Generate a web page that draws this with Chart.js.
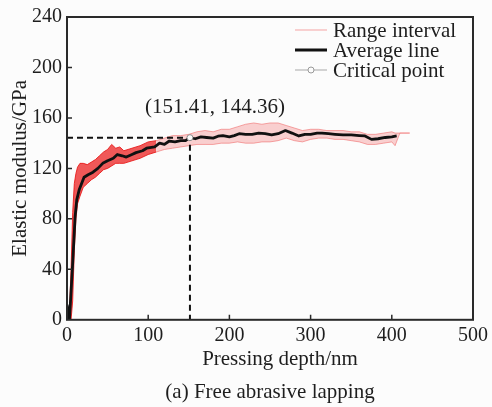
<!DOCTYPE html>
<html>
<head>
<meta charset="utf-8">
<script src="https://cdn.jsdelivr.net/npm/chart.js@4/dist/chart.umd.min.js"></script>
<style>
  html, body { margin: 0; padding: 0; background: #fcfcfc; }
  #wrap { width: 492px; height: 407px; }
</style>
</head>
<body>
<div id="wrap"><canvas id="modulus"></canvas></div>
<script>
// average line (depth nm, modulus GPa)
const avgDepth   = [0, 3, 7, 10, 12, 15, 18, 21, 26, 32, 38, 44, 50, 57, 62, 68, 73, 80, 85, 93, 98, 102, 108, 114, 120, 126, 133, 140, 146, 151.41, 158, 165, 172, 180, 186, 192, 200, 206, 212, 220, 228, 236, 244, 252, 260, 269, 277, 285.5, 293, 300, 308, 314, 322, 330, 340, 350, 360, 367, 375, 383, 392, 400, 406];
const avgModulus = [12, 0, 45, 82, 95, 103, 108, 113, 115, 117, 120, 124, 126, 128, 131, 130, 129, 131, 132.5, 134, 136, 136.5, 137, 140, 139, 141.7, 141, 142, 142, 144.36, 143.5, 145, 144.5, 144, 145.5, 146, 145, 146, 147.5, 147, 147, 148, 147.5, 146.5, 147.5, 150, 148, 145.7, 147, 147, 148, 148, 147.5, 147, 146.5, 146.5, 146, 145.7, 143, 143.5, 144.5, 145, 145.7];

// range interval, early part (bright red)
const earlyDepth = [3, 5, 7, 9, 11, 13, 16, 20, 25, 30, 35, 40, 45, 50, 55, 60, 65, 70, 80, 90, 100, 110];
const earlyUpper = [5, 40, 85, 108, 116, 121, 124, 124, 123, 125, 127, 130, 133, 135, 139, 136, 137, 134, 136, 138, 141, 142];
const earlyLower = [0, 0, 15, 55, 80, 92, 98, 105, 108, 111, 113, 116, 119, 120, 122, 124, 124, 124, 126, 128, 131, 133];

// range interval, later part (pale red)
const lateDepth = [110, 120, 130, 140, 150, 160, 170, 180, 190, 200, 210, 220, 230, 240, 250, 260, 270, 280, 290, 300, 310, 320, 330, 340, 350, 360, 370, 380, 390, 400, 404, 410, 422];
const lateUpper = [142, 144, 146, 146, 147, 149, 150, 149, 151, 151, 153, 155, 156, 155, 156, 156, 154, 152, 150, 151, 151, 150, 150, 150, 149, 149, 147, 147, 148, 149, 148, 148, 148];
const lateLower = [133, 135, 136, 137, 138, 139, 139, 139, 140, 140, 141, 140, 140, 141, 141, 142, 144, 142, 141, 143, 144, 144, 143, 143, 142, 141, 139, 139, 140, 141, 138, 148, 148];

const criticalPoint = { x: 151.41, y: 144.36 };
const criticalLabel = '(151.41, 144.36)';

const legendNames = ['Range interval', 'Average line', 'Critical point'];
const xTitle = 'Pressing depth/nm';
const yTitle = 'Elastic modulus/GPa';
const caption = '(a) Free abrasive lapping';

const SERIF = '"Liberation Serif", "Times New Roman", serif';
const INK = '#1e1e1e';

function pts(xs, ys) {
    return xs.map((x, i) => ({ x: x, y: ys[i] }));
}

const frame = {
    id: 'frame',
    beforeDraw(chart) {
        const ctx = chart.ctx;
        ctx.save();
        ctx.fillStyle = '#fcfcfc';
        ctx.fillRect(0, 0, chart.width, chart.height);
        ctx.restore();
    },
    afterDraw(chart) {
        const ctx = chart.ctx;
        const a = chart.chartArea;
        const xs = chart.scales.x;
        const ys = chart.scales.y;
        ctx.save();
        // box
        ctx.strokeStyle = '#2a2a2a';
        ctx.lineWidth = 2;
        ctx.strokeRect(a.left, a.top, a.right - a.left, a.bottom - a.top);
        // inward ticks
        ctx.lineWidth = 1.5;
        ctx.beginPath();
        xs.ticks.forEach(t => {
            if (t.value <= xs.min || t.value >= xs.max) return;
            const px = xs.getPixelForValue(t.value);
            ctx.moveTo(px, a.bottom);
            ctx.lineTo(px, a.bottom - 5);
        });
        ys.ticks.forEach(t => {
            if (t.value <= ys.min || t.value >= ys.max) return;
            const py = ys.getPixelForValue(t.value);
            ctx.moveTo(a.left, py);
            ctx.lineTo(a.left + 5, py);
        });
        ctx.stroke();

        ctx.fillStyle = INK;
        ctx.font = '21px ' + SERIF;
        ctx.textAlign = 'center';
        ctx.textBaseline = 'middle';
        // x axis title, sits a bit right of centre in the original
        ctx.fillText(xTitle, (a.left + a.right) / 2 + 10, a.bottom + 40);

        // annotation
        ctx.fillText(criticalLabel,
            xs.getPixelForValue(criticalPoint.x) + 25,
            ys.getPixelForValue(criticalPoint.y) - 30);

        // legend
        const lx0 = 295, lx1 = 327, tx = 333;
        const rows = [30, 50, 70];
        ctx.textAlign = 'left';
        ctx.strokeStyle = '#f4a3a3';
        ctx.lineWidth = 1;
        ctx.beginPath(); ctx.moveTo(lx0, rows[0]); ctx.lineTo(lx1, rows[0]); ctx.stroke();
        ctx.strokeStyle = '#111';
        ctx.lineWidth = 3;
        ctx.beginPath(); ctx.moveTo(lx0, rows[1]); ctx.lineTo(lx1, rows[1]); ctx.stroke();
        ctx.strokeStyle = '#c4c4c4';
        ctx.lineWidth = 1.5;
        ctx.beginPath(); ctx.moveTo(lx0, rows[2]); ctx.lineTo(lx1, rows[2]); ctx.stroke();
        ctx.fillStyle = '#fcfcfc';
        ctx.strokeStyle = '#9a9a9a';
        ctx.lineWidth = 1;
        ctx.beginPath(); ctx.arc((lx0 + lx1) / 2, rows[2], 3, 0, Math.PI * 2); ctx.fill(); ctx.stroke();
        ctx.fillStyle = INK;
        legendNames.forEach((n, i) => ctx.fillText(n, tx, rows[i] + 1));
        ctx.restore();
    }
};

function main() {
    const ctx = document.querySelector('#modulus').getContext('2d');
    // first dataset ends up on top
    new Chart(ctx, {
        type: 'line',
        data: {
            datasets: [
                {
                    label: legendNames[2], data: [criticalPoint],
                    showLine: false, pointRadius: 3, pointBorderWidth: 1,
                    pointBorderColor: '#8a8a8a', pointBackgroundColor: '#fcfcfc'
                },
                {
                    label: legendNames[1], data: pts(avgDepth, avgModulus),
                    borderColor: '#111', borderWidth: 2.8, fill: false, pointRadius: 0,
                    borderJoinStyle: 'round'
                },
                {
                    label: 'guide', data: [
                        { x: 0, y: criticalPoint.y },
                        { x: criticalPoint.x, y: criticalPoint.y },
                        { x: criticalPoint.x, y: 0 }
                    ],
                    borderColor: '#111', borderWidth: 2, borderDash: [6, 4],
                    fill: false, pointRadius: 0
                },
                {
                    label: 'late lower', data: pts(lateDepth, lateLower),
                    borderColor: 'rgba(240,110,110,0.6)', borderWidth: 1,
                    fill: false, pointRadius: 0
                },
                {
                    label: 'late upper', data: pts(lateDepth, lateUpper),
                    borderColor: 'rgba(240,110,110,0.6)', borderWidth: 1,
                    backgroundColor: 'rgba(245,140,140,0.4)', fill: '-1', pointRadius: 0
                },
                {
                    label: 'early lower', data: pts(earlyDepth, earlyLower),
                    borderColor: 'rgba(232,20,20,0.85)', borderWidth: 1,
                    fill: false, pointRadius: 0
                },
                {
                    label: 'early upper', data: pts(earlyDepth, earlyUpper),
                    borderColor: 'rgba(232,20,20,0.85)', borderWidth: 1,
                    backgroundColor: 'rgba(235,25,25,0.72)', fill: '-1', pointRadius: 0
                }
            ]
        },
        options: {
            responsive: true,
            maintainAspectRatio: false,
            animation: false,
            layout: { padding: { top: 16, right: 17, left: 0, bottom: 0 } },
            plugins: {
                legend: { display: false },
                tooltip: { enabled: false },
                title: {
                    display: true, position: 'bottom', text: caption, fullSize: false,
                    color: INK, font: { family: SERIF, size: 21, weight: 'normal' },
                    padding: { top: 6, bottom: 2 }
                }
            },
            scales: {
                x: {
                    type: 'linear', min: 0, max: 500,
                    grid: { display: false, drawTicks: false }, border: { display: false },
                    ticks: { stepSize: 100, color: INK, font: { family: SERIF, size: 20 }, padding: 4 },
                    afterFit: s => { s.height = 54; }
                },
                y: {
                    min: 0, max: 240,
                    grid: { display: false, drawTicks: false }, border: { display: false },
                    ticks: { stepSize: 20, color: INK, font: { family: SERIF, size: 20 }, padding: 5 },
                    title: { display: true, text: yTitle, color: INK, font: { family: SERIF, size: 21 }, padding: { top: 8, bottom: 0 } },
                    afterFit: s => { s.width = 67; }
                }
            }
        },
        plugins: [frame]
    });
}

document.addEventListener('DOMContentLoaded', () => {
    main();
});
</script>
</body>
</html>
